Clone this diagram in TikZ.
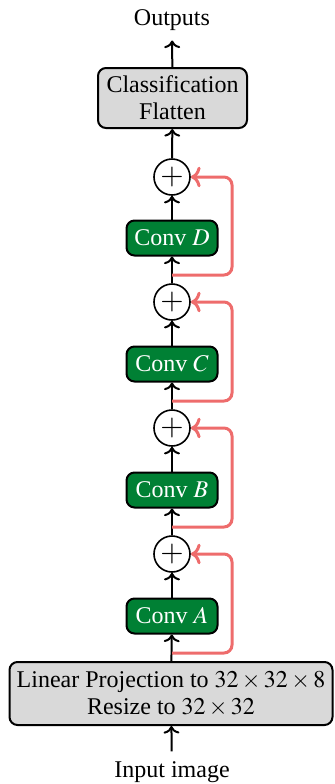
\documentclass[tikz,border=0pt]{standalone}
\usepackage{mathptmx}
\usepackage{fontspec}
\setmainfont{Liberation Serif}
\usetikzlibrary{arrows.meta}
\definecolor{convgreen}{RGB}{0,128,52}
\definecolor{skipred}{RGB}{238,108,108}
\definecolor{boxgray}{RGB}{217,217,217}
\tikzset{
    base/.style={draw, line width=1pt, align=center, inner sep=0pt, font=\fontsize{12}{13.5}\selectfont},
    graybox/.style={base, fill=boxgray, rounded corners=4pt},
    convbox/.style={base, fill=convgreen, text=white, rounded corners=4pt, minimum width=45.5pt, minimum height=17.5pt},
    addnode/.style={draw, line width=0.8pt, circle, minimum size=18pt, inner sep=0pt, font=\fontsize{15}{15}\selectfont},
    iolabel/.style={font=\fontsize{12}{14}\selectfont, inner sep=1pt, outer sep=4pt},
    arrow/.style={->, line width=1pt},
    skiparrow/.style={->, line width=1.5pt, draw=skipred, rounded corners=4pt}
}
\begin{document}
\begin{tikzpicture}[x=0.5pt, y=-0.5pt]
    \useasboundingbox (0,0) rectangle (334,784);

    % Input and projection
    \node[iolabel] (inp) at (172, 772) {Input image};
    \node[graybox, minimum width=161.5pt, minimum height=31.5pt] (proj) at (171, 693.5) {Linear Projection to $32\times32\times8$\\Resize to $32\times32$};

    % Conv blocks
    \node[convbox] (convA) at (172, 616) {Conv $A$};
    \node[convbox] (convB) at (172, 490) {Conv $B$};
    \node[convbox] (convC) at (172, 364) {Conv $C$};
    \node[convbox] (convD) at (172, 238) {Conv $D$};

    % Additions
    \node[addnode] (plusA) at (172, 554) {$+$};
    \node[addnode] (plusB) at (172, 428) {$+$};
    \node[addnode] (plusC) at (172, 302) {$+$};
    \node[addnode] (plusD) at (172, 177) {$+$};

    % Head and output
    \node[graybox, minimum width=74.5pt, minimum height=30pt] (cls) at (172.5, 98) {Classification\\Flatten};
    \node[iolabel] (out) at (172, 20) {Outputs};

    % Skip branch points
    \coordinate (skipA) at (172, 653);
    \coordinate (skipB) at (172, 527);
    \coordinate (skipC) at (172, 401);
    \coordinate (skipD) at (172, 275);

    % Main path
    \draw[arrow] (inp) -- (proj);
    \draw[arrow] (proj) -- (convA);
    \draw[arrow] (convA) -- (plusA);
    \draw[arrow] (plusA) -- (convB);
    \draw[arrow] (convB) -- (plusB);
    \draw[arrow] (plusB) -- (convC);
    \draw[arrow] (convC) -- (plusC);
    \draw[arrow] (plusC) -- (convD);
    \draw[arrow] (convD) -- (plusD);
    \draw[arrow] (plusD) -- (cls);
    \draw[arrow] (cls) -- (out);

    % Residual connections
    \draw[skiparrow] (skipA) -- ++(60,0) |- (plusA.east);
    \draw[skiparrow] (skipB) -- ++(60,0) |- (plusB.east);
    \draw[skiparrow] (skipC) -- ++(60,0) |- (plusC.east);
    \draw[skiparrow] (skipD) -- ++(60,0) |- (plusD.east);
\end{tikzpicture}
\end{document}
